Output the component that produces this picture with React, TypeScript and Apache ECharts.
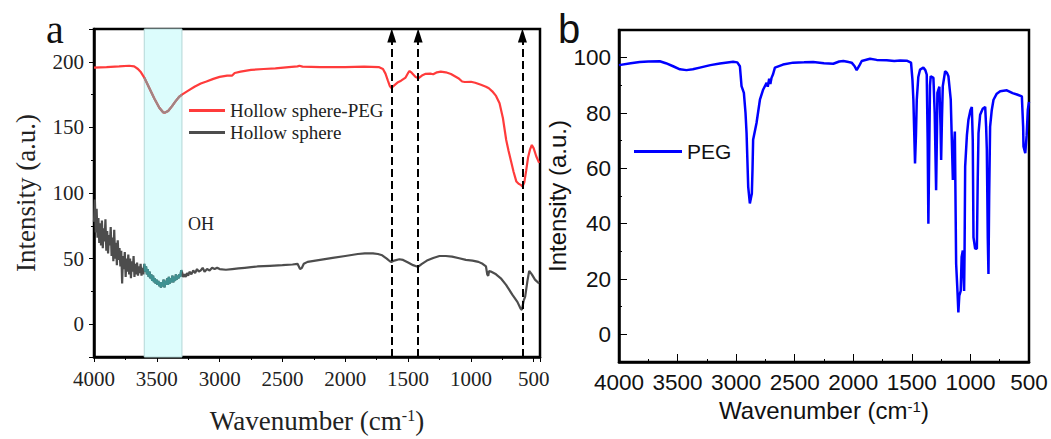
import React, { useEffect, useRef } from 'react';
import * as echarts from 'echarts';

// ---------- tick values ----------
const xTicks = [4000, 3500, 3000, 2500, 2000, 1500, 1000, 500];
const yTicksA = [0, 50, 100, 150, 200];
const yTicksB = [0, 20, 40, 60, 80, 100];

// ---------- annotations ----------
const ohBand = [3600, 3300];
const peakLines = [1630, 1420, 590];

// ---------- panel a: Hollow sphere-PEG ----------
const hollowSpherePeg: number[][] = [
  [4000, 195.6], [3900, 196], [3800, 196.5], [3720, 197], [3680, 196.5], [3650, 194.5], [3626, 192],
  [3600, 188], [3560, 180], [3520, 172], [3480, 165], [3450, 161.5], [3434, 161.3], [3410, 162.5],
  [3380, 166], [3350, 170], [3320, 173.5], [3300, 175], [3250, 178], [3200, 181], [3150, 183.5],
  [3105, 185], [3050, 187], [3000, 188.5], [2940, 189.5], [2900, 189.5], [2880, 191.5], [2833, 192.5],
  [2750, 193.8], [2650, 194.5], [2556, 195], [2450, 196], [2380, 196.5], [2365, 197], [2340, 196.3],
  [2200, 196], [2000, 196], [1850, 196.3], [1734, 196], [1700, 194.5], [1680, 191], [1660, 185.5],
  [1645, 181.5], [1633, 180], [1610, 182], [1580, 184.5], [1556, 185.6], [1520, 188], [1500, 191.5],
  [1488, 193], [1470, 191.5], [1440, 188.5], [1416, 187.5], [1390, 189.5], [1360, 190.8], [1323, 191],
  [1300, 190.5], [1270, 192], [1240, 192.5], [1200, 192], [1159, 190.7], [1100, 187.5], [1070, 185],
  [1049, 184.6], [1000, 184.8], [966, 184], [920, 182.5], [880, 181], [857, 179.8], [830, 177.5],
  [800, 174], [772, 168.4], [745, 157], [719, 140.4], [700, 132], [680, 124], [660, 116], [638, 108.7],
  [620, 107], [600, 106], [590, 105], [575, 108], [560, 117], [545, 127], [530, 133], [515, 136.6],
  [500, 134], [480, 128], [457, 123],
];

// ---------- panel a: Hollow sphere ----------
const hollowSphere: number[][] = [
  [4000, 78], [3993, 95], [3986, 70], [3979, 88], [3972, 66], [3965, 81], [3958, 62], [3951, 77],
  [3944, 60], [3937, 79], [3930, 58], [3923, 73], [3916, 63], [3909, 80], [3902, 56], [3895, 71],
  [3888, 54], [3881, 68], [3874, 60], [3867, 74], [3860, 52], [3853, 66], [3846, 48], [3839, 72],
  [3832, 50], [3825, 62], [3818, 45], [3811, 64], [3804, 49], [3797, 58], [3790, 44], [3783, 56],
  [3776, 31], [3769, 52], [3762, 42], [3755, 55], [3748, 36], [3741, 50], [3734, 40], [3727, 53],
  [3720, 38], [3713, 50], [3706, 35], [3699, 48], [3692, 40], [3685, 52], [3678, 36], [3671, 46],
  [3664, 38], [3657, 47], [3650, 37], [3643, 44], [3636, 39], [3629, 46], [3622, 37], [3615, 43],
  [3608, 38], [3600, 46], [3593, 40], [3586, 44], [3579, 38], [3572, 42], [3565, 36], [3558, 40],
  [3551, 35], [3544, 38], [3537, 33], [3530, 37], [3523, 32], [3516, 35], [3509, 31], [3502, 34],
  [3495, 30], [3488, 33], [3481, 29], [3474, 32], [3467, 28], [3460, 32], [3453, 29], [3446, 34],
  [3439, 28], [3432, 33], [3425, 30], [3418, 35], [3411, 30], [3404, 36], [3397, 31], [3390, 35],
  [3383, 32], [3376, 37], [3369, 32], [3362, 36], [3355, 33], [3348, 38], [3341, 34], [3334, 37],
  [3327, 35], [3320, 38], [3313, 36], [3306, 41], [3300, 40], [3290, 36], [3280, 38], [3270, 36],
  [3260, 39], [3250, 37], [3240, 40], [3225, 38], [3210, 41], [3195, 39], [3180, 42], [3165, 40],
  [3150, 41], [3135, 43], [3120, 40], [3100, 42], [3080, 41], [3060, 43], [3040, 42], [3020, 43],
  [3000, 42], [2950, 41.5], [2900, 42], [2850, 42.5], [2800, 43], [2750, 43.5], [2700, 44],
  [2600, 44.5], [2500, 45], [2420, 45.5], [2380, 46], [2360, 42], [2345, 43], [2330, 46],
  [2300, 47.5], [2200, 49], [2100, 50.5], [2000, 52], [1900, 53.5], [1844, 54], [1780, 54],
  [1740, 53.5], [1706, 52.5], [1670, 50], [1645, 48], [1633, 47.5], [1610, 48.5], [1570, 49.5],
  [1540, 49], [1500, 47], [1460, 45], [1430, 44], [1416, 44], [1390, 46], [1350, 48.5], [1300, 50.5],
  [1250, 52], [1200, 52], [1150, 51.5], [1093, 50.3], [1040, 49], [987, 48.5], [940, 47.5],
  [907, 46], [880, 44], [870, 38], [862, 36.8], [855, 40.5], [841, 40.1], [800, 38], [762, 35],
  [720, 30], [669, 22.3], [630, 17], [605, 12], [594, 10.9], [580, 18], [568, 21], [550, 33],
  [536, 40.6], [515, 38], [490, 34], [457, 31],
];

// ---------- panel b: PEG ----------
const peg: number[][] = [
  [4000, 97.3], [3900, 98], [3823, 98.4], [3750, 98.6], [3652, 98.7], [3600, 98], [3538, 96.9],
  [3480, 95.8], [3424, 95.5], [3370, 95.8], [3310, 96.4], [3220, 97.3], [3139, 97.9], [3026, 98.5],
  [2990, 98.3], [2968, 96.9], [2954, 89.7], [2934, 87.3], [2920, 80], [2911, 72.7], [2897, 53.3],
  [2883, 47.3], [2866, 50.9], [2860, 60], [2855, 70.3], [2826, 76.4], [2797, 84.8], [2769, 88.5],
  [2740, 90.9], [2730, 89.5], [2718, 92.4], [2708, 90.5], [2698, 92.7], [2685, 94], [2669, 96.4],
  [2600, 97.5], [2513, 98.2], [2420, 98.3], [2342, 98.4], [2250, 98], [2171, 97.8], [2120, 98.6],
  [2085, 98.8], [2040, 98.4], [2014, 98.2], [1990, 97], [1971, 95.5], [1950, 97], [1928, 98.8],
  [1857, 99.6], [1800, 99.2], [1715, 99.1], [1650, 98.8], [1600, 99], [1544, 98.9], [1507, 98.2],
  [1495, 92], [1487, 84.8], [1473, 61.8], [1465, 72], [1458, 84.8], [1445, 93], [1430, 95.7],
  [1402, 96.4], [1385, 95.5], [1373, 93.9], [1365, 70], [1359, 40], [1352, 65], [1345, 90],
  [1339, 93.3], [1316, 92.7], [1305, 80], [1293, 52.1], [1285, 75], [1282, 87.3], [1265, 89.5],
  [1255, 75], [1250, 63], [1243, 78], [1236, 89.7], [1216, 95.1], [1200, 94.5], [1188, 93.3],
  [1168, 84.8], [1150, 55.8], [1140, 68], [1133, 73.3], [1122, 25.5], [1110, 15], [1103, 7.9],
  [1095, 14], [1083, 15.7], [1075, 28], [1065, 30.3], [1058, 20], [1054, 15.7], [1050, 30],
  [1045, 60.6], [1030, 72], [1017, 77.6], [1000, 81], [988, 82.2], [980, 70], [974, 35.1],
  [960, 31], [945, 30.9], [938, 55], [931, 72.7], [917, 79.4], [895, 81.5], [874, 82.2], [866, 75],
  [860, 66.7], [852, 35], [846, 21.8], [840, 50], [832, 75.1], [818, 81], [803, 84.8], [775, 87],
  [746, 87.9], [689, 88.2], [640, 87.2], [603, 86.7], [561, 86], [550, 75], [547, 67.9], [532, 65.5],
  [520, 72], [510, 81.2], [500, 84],
];

const serif = '"Liberation Serif", "Times New Roman", serif';
const sans = '"Liberation Sans", Arial, sans-serif';

const inBand = (d: number[][]) => d.filter((p) => p[0] <= ohBand[0] && p[0] >= ohBand[1]);
const plain = (v: number) => String(v);

export default function App() {
  const ref = useRef<HTMLDivElement>(null);
  useEffect(() => {
    document.body.style.margin = '0';
    if (!ref.current) return;
    const chart = echarts.init(ref.current, undefined, { renderer: 'svg' });

    const axisName = (font: string, size: number, sup: number, color: string) => ({
      fontFamily: font,
      rich: {
        t: { fontFamily: font, fontSize: size, color },
        s: { fontFamily: font, fontSize: sup, color, verticalAlign: 'top' as const },
      },
    });

    const option: any = {
      animation: false,
      backgroundColor: '#fff',
      grid: [
        { left: 94, top: 29, width: 446, height: 328, show: true, borderColor: '#000', borderWidth: 2.5 },
        { left: 619, top: 30, width: 410, height: 332, show: true, borderColor: '#000', borderWidth: 2.5 },
      ],
      xAxis: [
        {
          gridIndex: 0, type: 'value', min: 450, max: 4000, splitNumber: 7, inverse: true,
          axisLine: { show: true, onZero: false, lineStyle: { color: '#000', width: 2.5 } },
          axisTick: { show: true },
          minorTick: { show: true, splitNumber: 2 },
          axisLabel: { customValues: xTicks, formatter: plain, margin: 11, fontFamily: serif, fontSize: 21, color: '#222' },
          splitLine: { show: false },
          name: '{t|Wavenumber (cm}{s|-1}{t|)}', nameLocation: 'middle', nameGap: 50,
          nameTextStyle: axisName(serif, 27, 16, '#222'),
        },
        {
          gridIndex: 1, type: 'value', min: 500, max: 4000, interval: 500, inverse: true,
          axisLine: { show: true, onZero: false, lineStyle: { color: '#000', width: 2.5 } },
          axisTick: { show: true, inside: true, length: 8 },
          minorTick: { show: true, splitNumber: 2 },
          axisLabel: { customValues: xTicks, formatter: plain, margin: 9, fontFamily: sans, fontSize: 22.5, color: '#111' },
          splitLine: { show: false },
          name: '{t|Wavenumber (cm}{s|-1}{t|)}', nameLocation: 'middle', nameGap: 36,
          nameTextStyle: axisName(sans, 24, 15, '#111'),
        },
      ],
      yAxis: [
        {
          gridIndex: 0, type: 'value', min: -25, max: 225, splitNumber: 5,
          axisLine: { show: true, onZero: false, lineStyle: { color: '#000', width: 2.5 } },
          axisTick: { show: true },
          minorTick: { show: true, splitNumber: 2 },
          axisLabel: { customValues: yTicksA, formatter: plain, margin: 10, fontFamily: serif, fontSize: 21, color: '#222' },
          splitLine: { show: false },
          name: 'Intensity (a.u.)', nameLocation: 'middle', nameGap: 55,
          nameTextStyle: { fontFamily: serif, fontSize: 27, color: '#222' },
        },
        {
          gridIndex: 1, type: 'value', min: -10, max: 110, splitNumber: 6,
          axisLine: { show: true, onZero: false, lineStyle: { color: '#000', width: 2.5 } },
          axisTick: { show: true, inside: true, length: 8 },
          minorTick: { show: true, splitNumber: 2 },
          axisLabel: { customValues: yTicksB, formatter: plain, margin: 8, fontFamily: sans, fontSize: 22.5, color: '#111' },
          splitLine: { show: false },
          name: 'Intensity (a.u.)', nameLocation: 'middle', nameGap: 42,
          nameTextStyle: { fontFamily: sans, fontSize: 24, color: '#111' },
        },
      ],
      legend: [
        {
          data: ['Hollow sphere-PEG', 'Hollow sphere'], orient: 'vertical', left: 189, top: 101,
          icon: 'rect', itemWidth: 36, itemHeight: 3, itemGap: 3, padding: 0,
          textStyle: { fontFamily: serif, fontSize: 19, color: '#222' },
        },
        {
          data: ['PEG'], orient: 'vertical', left: 634, top: 141, icon: 'rect',
          itemWidth: 48, itemHeight: 3, padding: 0,
          textStyle: { fontFamily: sans, fontSize: 21, color: '#111' },
        },
      ],
      series: [
        {
          name: 'band', type: 'line', xAxisIndex: 0, yAxisIndex: 0, data: [], z: 1, silent: true,
          markArea: {
            silent: true,
            itemStyle: { color: '#dcfcfc', borderColor: '#b4d6d6', borderWidth: 1 },
            data: [[{ xAxis: ohBand[0] }, { xAxis: ohBand[1] }]],
          },
        },
        {
          name: 'Hollow sphere', type: 'line', xAxisIndex: 0, yAxisIndex: 0, data: hollowSphere, z: 2,
          symbol: 'none', lineStyle: { color: '#4d4d4d', width: 2.2 }, itemStyle: { color: '#4d4d4d' },
        },
        {
          name: 'Hollow sphere-PEG', type: 'line', xAxisIndex: 0, yAxisIndex: 0, data: hollowSpherePeg, z: 2,
          symbol: 'none', lineStyle: { color: '#ff3b3b', width: 2.2 }, itemStyle: { color: '#ff3b3b' },
        },
        {
          name: 'hs-band', type: 'line', xAxisIndex: 0, yAxisIndex: 0, data: inBand(hollowSphere), z: 3,
          symbol: 'none', lineStyle: { color: '#3f9191', width: 2.2 },
        },
        {
          name: 'peg-band', type: 'line', xAxisIndex: 0, yAxisIndex: 0, data: inBand(hollowSpherePeg), z: 3,
          symbol: 'none', lineStyle: { color: '#a08585', width: 2.2 },
        },
        {
          name: 'peaks', type: 'line', xAxisIndex: 0, yAxisIndex: 0, data: [], z: 4, silent: true,
          markLine: {
            silent: true, symbol: ['none', 'triangle'], symbolSize: [9, 14],
            lineStyle: { color: '#000', width: 2, type: 'dashed' },
            label: { show: false },
            data: peakLines.map((v) => [{ coord: [v, -25] }, { coord: [v, 220] }]),
          },
        },
        {
          name: 'PEG', type: 'line', xAxisIndex: 1, yAxisIndex: 1, data: peg, z: 2,
          symbol: 'none', lineStyle: { color: '#0000ff', width: 2.5 }, itemStyle: { color: '#0000ff' },
        },
      ],
      graphic: [
        { type: 'text', left: 46, top: 9, style: { text: 'a', font: `40px ${serif}`, fill: '#111' } },
        { type: 'text', left: 558, top: 9, style: { text: 'b', font: `40px ${sans}`, fill: '#111' } },
        { type: 'text', left: 188, top: 215, style: { text: 'OH', font: `18px ${serif}`, fill: '#222' } },
      ],
    };
    chart.setOption(option);
    return () => chart.dispose();
  }, []);
  return <div ref={ref} style={{ width: 1051, height: 439 }} />;
}
